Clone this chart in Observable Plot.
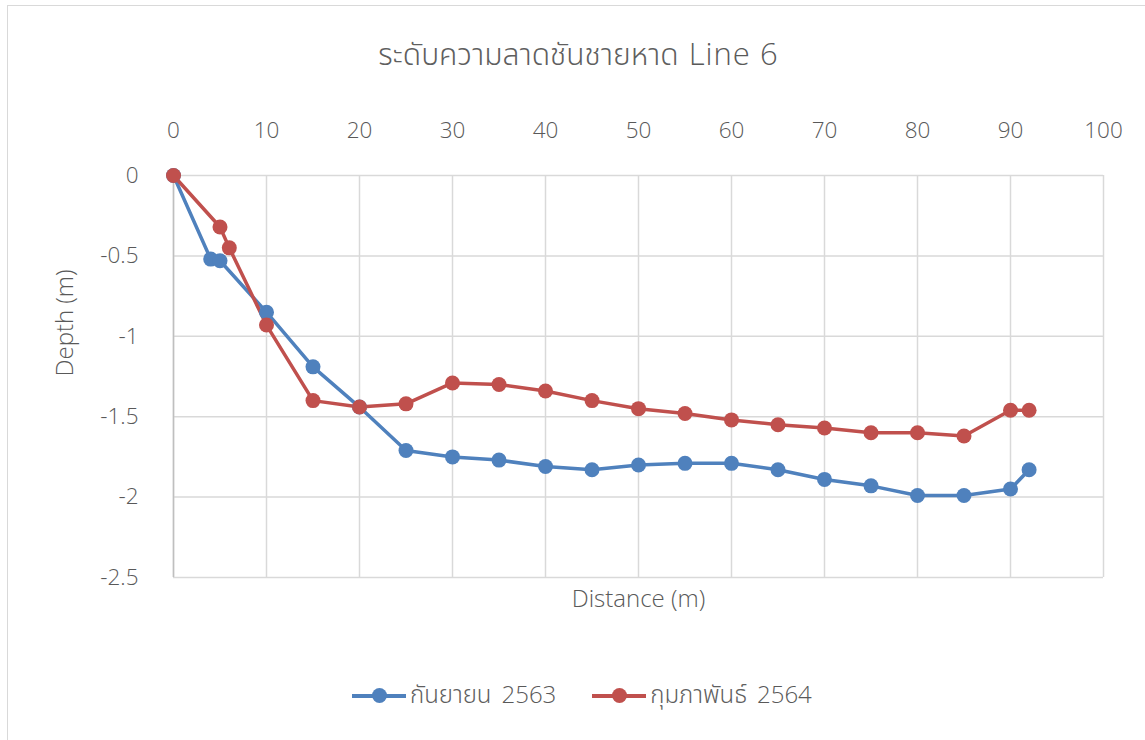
<!DOCTYPE html>
<html>
<head>
<meta charset="utf-8">
<script src="https://cdn.jsdelivr.net/npm/d3@7"></script>
<script src="https://cdn.jsdelivr.net/npm/@observablehq/plot@0.6"></script>
<style>
  html, body { margin: 0; padding: 0; background: #fff; }
  #chart {
    position: relative; width: 1145px; height: 740px; overflow: hidden;
    font-family: "Open Sans", "Noto Sans", sans-serif; font-weight: 300; color: #595959;
  }
  #frame {
    position: absolute; left: 7px; top: 5px; width: 1150px; height: 750px;
    border: 1.5px solid #d9d9d9; box-sizing: border-box;
  }
  #title {
    position: absolute; left: 0; width: 1157px; top: 32px; text-align: center;
    font-size: 30px; color: #595959; white-space: nowrap;
  }
  #title .lat { font-size: 31px; letter-spacing: 1px; margin-left: 10px; }
  .th { font-family: "Noto Sans Thai", "Noto Sans Thai UI", Lato, sans-serif; font-weight: 300; color: #5f5f5f; }
  #plot { position: absolute; left: 0; top: 0; }
  #plot svg text { font-weight: 300; }
  #legend {
    position: absolute; top: 677px; left: 352px; display: flex; align-items: center;
    font-size: 24px; color: #595959; white-space: nowrap;
  }
  #legend .yr { margin-left: 10px; }
  .item { display: flex; align-items: center; margin-right: 36px; }
  .key { position: relative; width: 54px; height: 16px; margin-right: 4px; }
  .key .ln { position: absolute; left: 0; right: 0; top: 6.5px; height: 3.5px; }
  .key .pt { position: absolute; left: 19.5px; top: 0.5px; width: 15px; height: 15px; border-radius: 50%; }
</style>
</head>
<body>
<div id="chart">
  <div id="frame"></div>
  <div id="title"><span class="th">ระดับความลาดชันชายหาด</span><span class="lat">Line 6</span></div>
  <div id="plot"></div>
  <div id="legend"></div>
</div>
<script>
// Beach profile, Line 6: distance from the benchmark (m) vs depth (m)
const seriesMonths = ["กันยายน", "กุมภาพันธ์"];
const seriesYears = ["2563", "2564"];
const seriesNames = seriesMonths.map((m, i) => `${m} ${seriesYears[i]}`);
const seriesColors = ["#4f81bd", "#c0504d"];

const distSep = [0, 4, 5, 10, 15, 20, 25, 30, 35, 40, 45, 50, 55, 60, 65, 70, 75, 80, 85, 90, 92];
const depthSep = [0, -0.52, -0.53, -0.85, -1.19, -1.44, -1.71, -1.75, -1.77, -1.81, -1.83, -1.80, -1.79, -1.79, -1.83, -1.89, -1.93, -1.99, -1.99, -1.95, -1.83];

const distFeb = [0, 5, 6, 10, 15, 20, 25, 30, 35, 40, 45, 50, 55, 60, 65, 70, 75, 80, 85, 90, 92];
const depthFeb = [0, -0.32, -0.45, -0.93, -1.40, -1.44, -1.42, -1.29, -1.30, -1.34, -1.40, -1.45, -1.48, -1.52, -1.55, -1.57, -1.60, -1.60, -1.62, -1.46, -1.46];

const xTicks = [0, 10, 20, 30, 40, 50, 60, 70, 80, 90, 100];
const yTicks = [0, -0.5, -1, -1.5, -2, -2.5];

const rows = [
  ...distSep.map((d, i) => ({series: seriesNames[0], dist: d, depth: depthSep[i]})),
  ...distFeb.map((d, i) => ({series: seriesNames[1], dist: d, depth: depthFeb[i]}))
];

const fmtY = v => v === 0 ? "0" : String(v).replace("−", "-");

const plot = Plot.plot({
  width: 1145,
  height: 740,
  marginLeft: 173,
  marginRight: 42,
  marginTop: 175,
  marginBottom: 163,
  style: {background: "transparent", fontFamily: "'Open Sans', 'Noto Sans', sans-serif", fontSize: "22px", color: "#595959"},
  x: {domain: [0, 100]},
  y: {domain: [-2.5, 0]},
  color: {domain: seriesNames, range: seriesColors},
  marks: [
    Plot.gridX(xTicks, {stroke: "#d9d9d9", strokeOpacity: 1, strokeWidth: 1.5}),
    Plot.gridY(yTicks, {stroke: "#d9d9d9", strokeOpacity: 1, strokeWidth: 1.5}),
    Plot.ruleX([0], {stroke: "#bfbfbf", strokeWidth: 1.5}),
    Plot.axisX(xTicks, {anchor: "top", tickSize: 0, tickPadding: 38, fontSize: 22.5, fill: "#595959", label: null}),
    Plot.axisY(yTicks, {anchor: "left", tickSize: 0, tickPadding: 35, fontSize: 22.5, fill: "#595959", tickFormat: fmtY, label: null}),
    Plot.text(["Distance (m)"], {frameAnchor: "bottom", dy: 29, fontSize: 24, fill: "#595959"}),
    Plot.text(["Depth (m)"], {frameAnchor: "left", dx: -108, rotate: -90, fontSize: 24, fill: "#595959"}),
    Plot.line(rows, {x: "dist", y: "depth", z: "series", stroke: "series", strokeWidth: 3.5}),
    Plot.dot(rows, {x: "dist", y: "depth", fill: "series", r: 7.5, stroke: null})
  ]
});
document.getElementById("plot").appendChild(plot);

const legend = document.getElementById("legend");
seriesNames.forEach((name, i) => {
  const item = document.createElement("div");
  item.className = "item";
  item.innerHTML = `<div class="key"><div class="ln" style="background:${seriesColors[i]}"></div><div class="pt" style="background:${seriesColors[i]}"></div></div><span><span class="th">${seriesMonths[i]}</span><span class="yr">${seriesYears[i]}</span></span>`;
  legend.appendChild(item);
});
</script>
</body>
</html>
